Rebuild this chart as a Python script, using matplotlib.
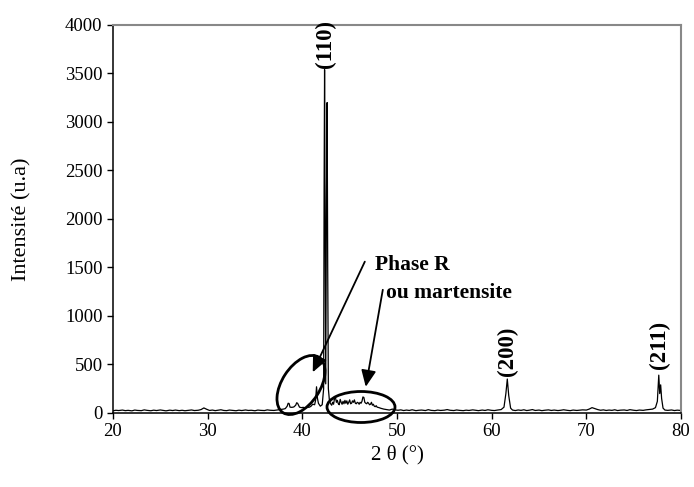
import matplotlib
matplotlib.use("Agg")
import matplotlib.pyplot as plt
from matplotlib.patches import Ellipse
from matplotlib.transforms import IdentityTransform

plt.rcParams['font.family'] = ['Liberation Serif', 'DejaVu Serif']

# 2-theta (deg) and intensity (u.a.)
two_theta = [20, 20.3, 20.6, 21, 21.3, 21.6, 22, 22.3, 22.6, 23, 23.3, 23.6, 24, 24.3, 24.6,
             25, 25.3, 25.6, 26, 26.3, 26.6, 27, 27.3, 27.6, 28, 28.3, 28.6, 29, 29.3, 29.6,
             29.9, 30.2, 30.5, 30.8, 31.1, 31.4, 31.7, 32, 32.3, 32.6, 33, 33.3, 33.6, 34,
             34.3, 34.6, 35, 35.3, 35.6, 36, 36.3, 36.6, 37, 37.3, 37.6, 38,
             38.2, 38.4, 38.5, 38.6, 38.7, 38.9, 39.1, 39.3, 39.4, 39.5, 39.7, 39.9, 40.1,
             40.3, 40.5, 40.7, 40.9, 41.1, 41.3, 41.4, 41.5, 41.6, 41.7, 41.9, 42.1, 42.25,
             42.3, 42.35, 42.4, 42.47, 42.55, 42.62, 42.68, 42.75, 42.85, 42.95, 43.1, 43.2,
             43.3, 43.4, 43.5, 43.6, 43.7, 43.8, 43.9, 44.0, 44.1, 44.2, 44.3, 44.4, 44.5,
             44.6, 44.7, 44.8, 44.9, 45.0, 45.1, 45.2, 45.3, 45.4, 45.5, 45.6, 45.7, 45.8,
             45.9, 46.0, 46.1, 46.2, 46.3, 46.4, 46.5, 46.6, 46.7, 46.8, 46.9, 47.0, 47.1,
             47.2, 47.3, 47.4, 47.5, 47.6, 47.7, 47.8, 47.9, 48.1, 48.3, 48.6, 48.9, 49.2,
             49.5, 49.8,
             50.1, 50.4, 50.7, 51, 51.3, 51.6, 52, 52.3, 52.6, 53, 53.3, 53.6, 54, 54.3,
             54.6, 55, 55.3, 55.6, 56, 56.3, 56.6, 57, 57.3, 57.6, 58, 58.3, 58.6, 59, 59.3,
             59.6, 60, 60.3, 60.6, 61, 61.3, 61.5, 61.65, 61.8, 62, 62.2, 62.5, 62.8, 63.1,
             63.4, 63.7, 64, 64.3, 64.6, 65, 65.3, 65.6, 66, 66.3, 66.6, 67, 67.3, 67.6, 68,
             68.3, 68.6, 69, 69.3, 69.6, 70, 70.3, 70.6, 70.9, 71.2, 71.5, 71.8, 72.1, 72.4,
             72.7, 73, 73.3, 73.6, 74, 74.3, 74.6, 75, 75.3, 75.6, 76, 76.3, 76.6, 77, 77.3,
             77.5, 77.65, 77.75, 77.85, 77.95, 78.1, 78.3, 78.6, 79, 79.3, 79.6, 80]
intensity = [22, 28, 25, 30, 24, 27, 22, 30, 26, 24, 32, 27, 23, 29, 25,
             31, 26, 22, 29, 25, 30, 24, 28, 23, 27, 31, 25, 28, 35, 52,
             38, 26, 30, 24, 28, 33, 26, 24, 30, 27, 23, 29, 25, 31,
             26, 28, 23, 30, 27, 25, 32, 28, 26, 30, 34, 40,
             45, 70, 100, 98, 60, 58, 62, 80, 105, 100, 60, 55, 58,
             52, 62, 58, 68, 90, 85, 130, 270, 150, 100, 70, 85, 250,
             2300, 3540, 2300, 300, 2200, 3200, 1500, 250, 140, 100, 80, 110,
             90, 150, 160, 110, 130, 95, 85, 140, 110, 90, 120, 95, 130,
             100, 125, 90, 110, 135, 95, 100, 125, 110, 135, 100, 95, 110,
             105, 90, 110, 100, 120, 165, 160, 110, 100, 95, 110, 100, 85,
             90, 110, 80, 90, 70, 65, 75, 60, 55, 48, 40, 35, 30,
             40, 32,
             28, 32, 25, 30, 26, 33, 24, 28, 30, 25, 34, 27, 24, 30,
             26, 29, 35, 28, 25, 31, 27, 24, 29, 26, 32, 28, 24, 30, 26,
             33, 27, 25, 30, 35, 60, 200, 350, 180, 50, 30, 25, 31, 27,
             33, 25, 29, 35, 26, 30, 24, 28, 32, 26, 30, 25, 28, 33, 27,
             24, 30, 26, 29, 32, 30, 40, 55, 45, 35, 28, 32, 26, 30,
             27, 33, 25, 29, 31, 26, 34, 28, 25, 30, 27, 32, 35, 40, 55,
             120, 390, 200, 290, 150, 50, 30, 27, 31, 25, 29, 26]

peak_labels = ["(110)", "(200)", "(211)"]
peak_label_pos = [(42.42, 3560), (61.62, 385), (77.75, 455)]

x_ticks = [20, 30, 40, 50, 60, 70, 80]
y_ticks = [0, 500, 1000, 1500, 2000, 2500, 3000, 3500, 4000]

fig = plt.figure(figsize=(6.94, 4.87), dpi=100)
ax = fig.add_axes([0.1628, 0.152, 0.8185, 0.7967])
ax.plot(two_theta, intensity, color='black', lw=0.9)
ax.set_xlim(20, 80)
ax.set_ylim(0, 4000)
ax.set_xticks(x_ticks)
ax.set_yticks(y_ticks)
ax.tick_params(direction='out', length=4, width=1, labelsize=13.5, colors='black')
for s in ['left', 'bottom']:
    ax.spines[s].set_color('black')
    ax.spines[s].set_linewidth(1.1)
for s in ['top', 'right']:
    ax.spines[s].set_color('#888888')
    ax.spines[s].set_linewidth(1.5)

ax.set_xlabel('2 θ (°)', fontsize=15, labelpad=3)
ax.set_ylabel('Intensité (u.a)', fontsize=16, labelpad=24)

for lab, (px, py) in zip(peak_labels, peak_label_pos):
    ax.text(px, py, lab, rotation=90, ha='center', va='bottom', fontsize=16.5,
            fontweight='bold', clip_on=False)

ax.text(47.7, 1530, 'Phase R', fontsize=15.5, fontweight='bold', ha='left', va='center')
ax.text(48.8, 1240, 'ou martensite', fontsize=15.5, fontweight='bold', ha='left', va='center')

arrow = dict(arrowstyle='-|>,head_length=1.0,head_width=0.45', color='black', lw=1.3,
             shrinkA=0, shrinkB=0)
ax.annotate('', xy=(41.1, 420), xytext=(46.6, 1560), arrowprops=arrow)
ax.annotate('', xy=(46.7, 270), xytext=(48.5, 1270), arrowprops=arrow)

fig.canvas.draw()
H = fig.bbox.height
for (cx, cy, w, h, ang) in [(301, 385, 66, 38, 57), (361, 407, 68, 31, 0)]:
    e = Ellipse((cx, H - cy), w, h, angle=ang, transform=IdentityTransform(),
                fill=False, edgecolor='black', lw=2.0, clip_on=False)
    fig.add_artist(e)

fig.savefig('out.png', dpi=100)
